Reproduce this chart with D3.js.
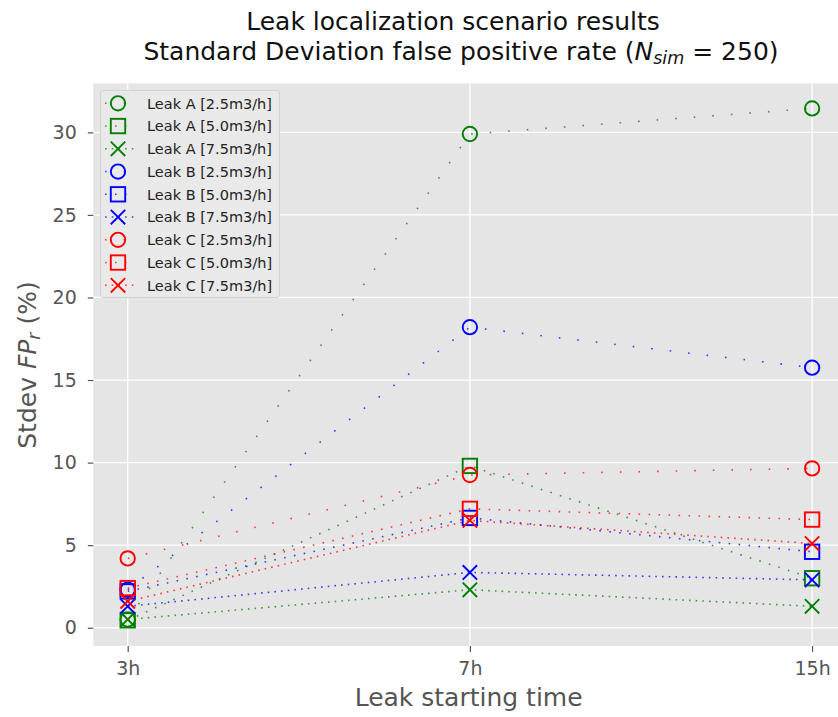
<!DOCTYPE html>
<html>
<head>
<meta charset="utf-8">
<script src="https://cdn.jsdelivr.net/npm/d3@7"></script>
<style>
  html, body { margin: 0; padding: 0; background: #fff; }
  svg { display: block; font-family: "DejaVu Sans", sans-serif; }
</style>
</head>
<body>
<svg id="chart" width="838" height="717"></svg>
<script>
// Leak starting times (categorical x axis)
const startTimes = ["3h", "7h", "15h"];

// Standard deviation of the false positive rate (%) per leak scenario
const leakA25 = [0.5, 29.9, 31.45];
const leakA50 = [0.45, 9.8, 3.0];
const leakA75 = [0.5, 2.3, 1.3];
const leakB25 = [2.3, 18.2, 15.75];
const leakB50 = [2.2, 6.65, 4.6];
const leakB75 = [1.3, 3.35, 2.9];
const leakC25 = [4.2, 9.25, 9.65];
const leakC50 = [2.4, 7.2, 6.55];
const leakC75 = [1.6, 6.5, 5.1];

const seriesLabels = [
  "Leak A [2.5m3/h]", "Leak A [5.0m3/h]", "Leak A [7.5m3/h]",
  "Leak B [2.5m3/h]", "Leak B [5.0m3/h]", "Leak B [7.5m3/h]",
  "Leak C [2.5m3/h]", "Leak C [5.0m3/h]", "Leak C [7.5m3/h]"
];
const seriesValues = [leakA25, leakA50, leakA75, leakB25, leakB50, leakB75, leakC25, leakC50, leakC75];
const seriesColors = ["green", "green", "green", "blue", "blue", "blue", "red", "red", "red"];
const seriesMarkers = ["circle", "square", "cross", "circle", "square", "cross", "circle", "square", "cross"];

const yTicks = [0, 5, 10, 15, 20, 25, 30];

// dot spacing depends on the flow rate: loose, medium, dense
const dashByMarker = { circle: "1.6 17", square: "1.6 8.4", cross: "1.6 5.1" };

const series = seriesLabels.map((label, i) => ({
  label, color: seriesColors[i], marker: seriesMarkers[i],
  points: startTimes.map((t, j) => ({ t, v: seriesValues[i][j] }))
}));

const svg = d3.select("#chart");
const plot = { left: 93.3, right: 846.5, top: 83.3, bottom: 645.9 };

const x = d3.scalePoint().domain(startTimes)
  .range([127.7, 812.1]);
const y = d3.scaleLinear().domain([-1.1, 32.97])
  .range([plot.bottom, plot.top]);

// axes background
svg.append("rect")
  .attr("x", plot.left).attr("y", plot.top)
  .attr("width", plot.right - plot.left).attr("height", plot.bottom - plot.top)
  .attr("fill", "#e5e5e5");

// grid lines
const grid = svg.append("g").attr("stroke", "#ffffff").attr("stroke-width", 1.3);
grid.selectAll("line.h").data(yTicks).join("line")
  .attr("x1", plot.left).attr("x2", plot.right)
  .attr("y1", d => y(d)).attr("y2", d => y(d));
grid.selectAll("line.v").data(startTimes).join("line")
  .attr("y1", plot.top).attr("y2", plot.bottom)
  .attr("x1", d => x(d)).attr("x2", d => x(d));

// axes
const yAxis = svg.append("g")
  .attr("transform", `translate(${plot.left},0)`)
  .call(d3.axisLeft(y).tickValues(yTicks).tickSize(5.5).tickPadding(11));
const xAxis = svg.append("g")
  .attr("transform", `translate(0,${plot.bottom})`)
  .call(d3.axisBottom(x).tickSize(6).tickPadding(10));
[yAxis, xAxis].forEach(ax => {
  ax.select(".domain").remove();
  ax.selectAll(".tick line").attr("stroke", "#555555").attr("stroke-width", 1.2);
  ax.selectAll(".tick text")
    .attr("fill", "#555555")
    .attr("font-size", 19)
    .attr("font-family", "DejaVu Sans, sans-serif");
});

// marker shapes drawn around (0,0)
function drawMarker(g, kind, color) {
  const r = 7.2;
  if (kind === "circle") {
    g.append("circle").attr("r", r)
      .attr("fill", "none").attr("stroke", color).attr("stroke-width", 1.9);
  } else if (kind === "square") {
    g.append("rect").attr("x", -r).attr("y", -r).attr("width", 2 * r).attr("height", 2 * r)
      .attr("fill", "none").attr("stroke", color).attr("stroke-width", 1.9);
  } else {
    g.append("path").attr("d", `M${-r},${-r}L${r},${r}M${-r},${r}L${r},${-r}`)
      .attr("fill", "none").attr("stroke", color).attr("stroke-width", 1.9);
  }
}

const line = d3.line().x(d => x(d.t)).y(d => y(d.v));

svg.append("clipPath").attr("id", "plotclip")
  .append("rect").attr("x", plot.left).attr("y", plot.top)
  .attr("width", plot.right - plot.left).attr("height", plot.bottom - plot.top);

const marks = svg.append("g").attr("clip-path", "url(#plotclip)");
series.forEach(s => {
  const g = marks.append("g");
  g.append("path").datum(s.points)
    .attr("d", line)
    .attr("fill", "none")
    .attr("stroke", s.color)
    .attr("stroke-opacity", 0.75)
    .attr("stroke-width", 1.6)
    .attr("stroke-dasharray", dashByMarker[s.marker]);
  g.selectAll("g.m").data(s.points).join("g")
    .attr("transform", d => `translate(${x(d.t)},${y(d.v)})`)
    .each(function () { drawMarker(d3.select(this), s.marker, s.color); });
});

// legend
const legend = svg.append("g");
legend.append("rect")
  .attr("x", 100.5).attr("y", 90.5).attr("width", 179).attr("height", 207)
  .attr("rx", 2.5)
  .attr("fill", "#e9e9e9").attr("stroke", "#d2d2d2").attr("stroke-width", 1);
series.forEach((s, i) => {
  const cy = 103.3 + i * 22.75;
  const row = legend.append("g").attr("transform", `translate(0,${cy})`);
  row.append("line").attr("x1", 105).attr("x2", 135).attr("y1", 0).attr("y2", 0)
    .attr("stroke", s.color).attr("stroke-opacity", 0.75)
    .attr("stroke-width", 1.6).attr("stroke-dasharray", dashByMarker[s.marker]);
  const mg = row.append("g").attr("transform", "translate(118,0)");
  drawMarker(mg, s.marker, s.color);
  row.append("text").attr("x", 147).attr("y", 0).attr("dy", "0.36em")
    .attr("font-size", 14.5).attr("fill", "#222222").text(s.label);
});

// title
const title = svg.append("g").attr("fill", "#111111").attr("font-size", 25).attr("text-anchor", "middle");
title.append("text").attr("x", 453).attr("y", 30).text("Leak localization scenario results");
const t2 = title.append("text").attr("x", 461).attr("y", 60);
t2.append("tspan").text("Standard Deviation false positive rate (");
t2.append("tspan").attr("font-style", "italic").text("N");
t2.append("tspan").attr("font-style", "italic").attr("font-size", 17.5).attr("dy", 4).text("sim");
t2.append("tspan").attr("dy", -4).text(" = 250)");

// axis labels
svg.append("text")
  .attr("x", (plot.left + 838) / 2 + 3).attr("y", 706)
  .attr("text-anchor", "middle").attr("font-size", 25).attr("fill", "#555555")
  .text("Leak starting time");
const yl = svg.append("text")
  .attr("transform", `translate(36,${365}) rotate(-90)`)
  .attr("text-anchor", "middle").attr("font-size", 25).attr("fill", "#555555");
yl.append("tspan").text("Stdev ");
yl.append("tspan").attr("font-style", "italic").text("FP");
yl.append("tspan").attr("font-style", "italic").attr("font-size", 17.5).attr("dy", 4).text("r");
yl.append("tspan").attr("dy", -4).text(" (%)");
</script>
</body>
</html>
